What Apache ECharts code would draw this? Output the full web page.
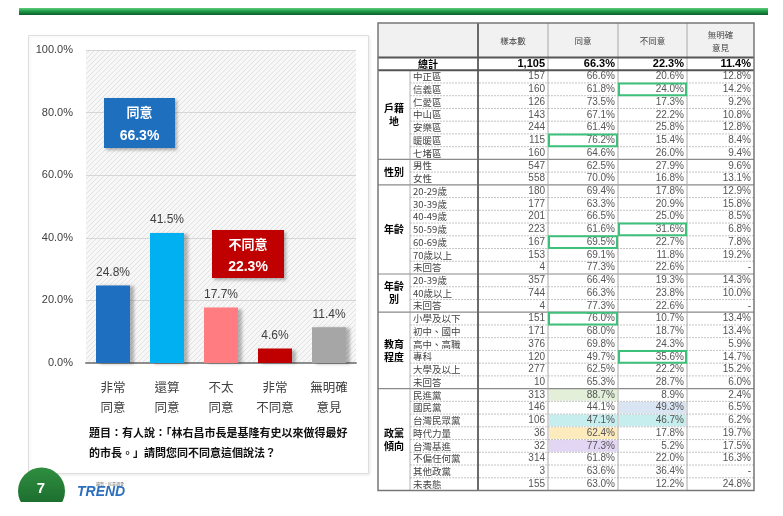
<!DOCTYPE html>
<html>
<head>
<meta charset="utf-8">
<script src="https://cdn.jsdelivr.net/npm/echarts@6/dist/echarts.min.js"></script>
<style>
html,body{margin:0;padding:0;background:#fff;}
#chart{width:783px;height:516px;}
</style>
</head>
<body>
<div id="chart"></div>
<script>
// ---------- DATA ----------
const categories = ['非常\n同意', '還算\n同意', '不太\n同意', '非常\n不同意', '無明確\n意見'];
const values = [24.8, 41.5, 17.7, 4.6, 11.4];
const summaryLabels = ['同意', '不同意'];
const summaryValues = [66.3, 22.3];
const questionText = '題目：有人說：「林右昌市長是基隆有史以來做得最好的市長。」請問您同不同意這個說法？';
const pageNumber = '7';

const tableCols = ['樣本數', '同意', '不同意', '無明確\n意見'];
const totalRow = ['總計', 1105, 66.3, 22.3, 11.4];
const districtRows = [
  ['中正區', 157, 66.6, 20.6, 12.8],
  ['信義區', 160, 61.8, 24.0, 14.2],
  ['仁愛區', 126, 73.5, 17.3, 9.2],
  ['中山區', 143, 67.1, 22.2, 10.8],
  ['安樂區', 244, 61.4, 25.8, 12.8],
  ['暖暖區', 115, 76.2, 15.4, 8.4],
  ['七堵區', 160, 64.6, 26.0, 9.4]
];
const genderRows = [
  ['男性', 547, 62.5, 27.9, 9.6],
  ['女性', 558, 70.0, 16.8, 13.1]
];
const ageRows = [
  ['20-29歲', 180, 69.4, 17.8, 12.9],
  ['30-39歲', 177, 63.3, 20.9, 15.8],
  ['40-49歲', 201, 66.5, 25.0, 8.5],
  ['50-59歲', 223, 61.6, 31.6, 6.8],
  ['60-69歲', 167, 69.5, 22.7, 7.8],
  ['70歲以上', 153, 69.1, 11.8, 19.2],
  ['未回答', 4, 77.3, 22.6, null]
];
const ageGroupRows = [
  ['20-39歲', 357, 66.4, 19.3, 14.3],
  ['40歲以上', 744, 66.3, 23.8, 10.0],
  ['未回答', 4, 77.3, 22.6, null]
];
const eduRows = [
  ['小學及以下', 151, 76.0, 10.7, 13.4],
  ['初中、國中', 171, 68.0, 18.7, 13.4],
  ['高中、高職', 376, 69.8, 24.3, 5.9],
  ['專科', 120, 49.7, 35.6, 14.7],
  ['大學及以上', 277, 62.5, 22.2, 15.2],
  ['未回答', 10, 65.3, 28.7, 6.0]
];
const partyRows = [
  ['民進黨', 313, 88.7, 8.9, 2.4],
  ['國民黨', 146, 44.1, 49.3, 6.5],
  ['台灣民眾黨', 106, 47.1, 46.7, 6.2],
  ['時代力量', 36, 62.4, 17.8, 19.7],
  ['台灣基進', 32, 77.3, 5.2, 17.5],
  ['不偏任何黨', 314, 61.8, 22.0, 16.3],
  ['其他政黨', 3, 63.6, 36.4, null],
  ['未表態', 155, 63.0, 12.2, 24.8]
];
const groupNames = ['戶籍\n地', '性別', '年齡', '年齡\n別', '教育\n程度', '政黨\n傾向'];
const groupRows = [districtRows, genderRows, ageRows, ageGroupRows, eduRows, partyRows];
// highlighted cells: [row label, column index (0=樣本數,1=同意,2=不同意,3=無明確意見)]
const boxedCells = [['信義區', 2], ['暖暖區', 1], ['50-59歲', 2], ['60-69歲', 1], ['小學及以下', 1], ['專科', 2]];
const filledCells = [['民進黨', 1], ['國民黨', 2], ['台灣民眾黨', 1], ['台灣民眾黨', 2], ['時代力量', 1], ['台灣基進', 1]];

// ---------- STYLES ----------
const barColors = ['#1f6fc0', '#00b0f0', '#ff7c80', '#c00000', '#a6a6a6'];
const summaryColors = ['#1f6fbf', '#c00000'];
const fillColors = ['#e3efd9', '#dae5f4', '#c7eeee', '#c7eeee', '#fdebbd', '#e3d6f4'];
const CJK = '"Noto Sans CJK TC","Noto Sans CJK SC",sans-serif';
const LAT = '"Liberation Sans",Arial,"Noto Sans CJK TC",sans-serif';

const chart = echarts.init(document.getElementById('chart'));

// hatch pattern for plot background
const pat = document.createElement('canvas');
pat.width = 5; pat.height = 5;
(function () {
  const c = pat.getContext('2d');
  c.fillStyle = '#f7f7f7'; c.fillRect(0, 0, 5, 5);
  c.strokeStyle = '#e2e2e2'; c.lineWidth = 1;
  c.beginPath();
  c.moveTo(0, 5); c.lineTo(5, 0);
  c.moveTo(-1, 1); c.lineTo(1, -1);
  c.moveTo(4, 6); c.lineTo(6, 4);
  c.stroke();
})();

// ---------- GRAPHICS ----------
const g = [];
// top green band
g.push({type: 'rect', z: 1, shape: {x: 19, y: 8, width: 749, height: 7},
  style: {fill: new echarts.graphic.LinearGradient(0, 0, 0, 1, [
    {offset: 0, color: '#5fcf7c'}, {offset: 0.45, color: '#1f9a48'}, {offset: 1, color: '#0b5f2a'}])}});
// left panel
g.push({type: 'rect', z: -10, shape: {x: 28.5, y: 35.5, width: 340, height: 438},
  style: {fill: '#fff', stroke: '#dedede', lineWidth: 1, shadowColor: 'rgba(0,0,0,0.08)', shadowBlur: 3, shadowOffsetX: 1, shadowOffsetY: 1}});

// summary callouts
const calloutBoxes = [{x: 104, y: 98, w: 71, h: 50}, {x: 212, y: 230, w: 72, h: 48}];
summaryLabels.forEach(function (lab, i) {
  const b = calloutBoxes[i];
  g.push({type: 'rect', z: 20, shape: {x: b.x, y: b.y, width: b.w, height: b.h},
    style: {fill: summaryColors[i], shadowColor: 'rgba(0,0,0,0.3)', shadowBlur: 3, shadowOffsetX: 2, shadowOffsetY: 2}});
  g.push({type: 'text', z: 21, style: {text: lab, x: b.x + b.w / 2, y: b.y + b.h * 0.29,
    align: 'center', verticalAlign: 'middle', textAlign: 'center', textVerticalAlign: 'middle',
    fill: '#fff', font: 'bold 13px ' + CJK}});
  g.push({type: 'text', z: 21, style: {text: summaryValues[i].toFixed(1) + '%', x: b.x + b.w / 2, y: b.y + b.h * 0.77,
    align: 'center', verticalAlign: 'middle', textAlign: 'center', textVerticalAlign: 'middle',
    fill: '#fff', font: 'bold 14px ' + LAT}});
});

// question text
g.push({type: 'text', z: 5, style: {text: questionText.slice(0, 24) + '\n' + questionText.slice(24),
  x: 89, y: 423, lineHeight: 20, fill: '#111', font: 'bold 11px ' + CJK,
  align: 'left', verticalAlign: 'top', textAlign: 'left', textVerticalAlign: 'top'}});

// logo tab with page number
g.push({type: 'circle', z: 5, shape: {cx: 41.5, cy: 491, r: 23.5},
  style: {fill: new echarts.graphic.LinearGradient(0, 0, 0, 1, [
    {offset: 0, color: '#2f8e3f'}, {offset: 1, color: '#17642a'}])}});
g.push({type: 'rect', z: 6, shape: {x: 10, y: 502, width: 70, height: 20}, style: {fill: '#fff'}});
g.push({type: 'text', z: 7, style: {text: pageNumber, x: 41, y: 489, fill: '#fff', font: 'bold 15px ' + LAT,
  align: 'center', verticalAlign: 'middle', textAlign: 'center', textVerticalAlign: 'middle'}});
g.push({type: 'text', z: 7, style: {text: 'TREND', x: 77, y: 492, fill: '#2c6fbf', font: 'italic bold 14px ' + LAT,
  align: 'left', verticalAlign: 'middle', textAlign: 'left', textVerticalAlign: 'middle'}});
g.push({type: 'text', z: 7, style: {text: '趨勢·民意調查', x: 110, y: 484, fill: '#777', font: '4px ' + CJK,
  align: 'center', verticalAlign: 'middle', textAlign: 'center', textVerticalAlign: 'middle'}});

// ---------- TABLE ----------
const colX = [378, 410, 478, 548, 618, 687, 754];
const tTop = 23, headBottom = 57.5, tBottom = 490.5;
const nRows = 1 + groupRows.reduce(function (s, r) { return s + r.length; }, 0);
const rowH = (tBottom - headBottom) / nRows;
function txt(t, x, y, font, fill, align) {
  g.push({type: 'text', z: 12, style: {text: t, x: x, y: y, font: font, fill: fill,
    align: align, verticalAlign: 'middle', textAlign: align, textVerticalAlign: 'middle', lineHeight: 13}});
}
function line(x1, y1, x2, y2, stroke, w, dash) {
  g.push({type: 'line', z: 14, shape: {x1: x1, y1: y1, x2: x2, y2: y2},
    style: {stroke: stroke, lineWidth: w, lineDash: dash || null}});
}
function fmtCell(v, ci) {
  if (v === null) return '-';
  if (ci === 0) return v.toLocaleString('en-US');
  return v.toFixed(1) + '%';
}
// header background
g.push({type: 'rect', z: 10, shape: {x: colX[0], y: tTop, width: colX[6] - colX[0], height: headBottom - tTop},
  style: {fill: '#f1f1f1'}});
tableCols.forEach(function (c, i) {
  txt(c, (colX[i + 2] + colX[i + 3]) / 2, (tTop + headBottom) / 2 + 1, '8.5px ' + CJK, '#444', 'center');
});
// total row
const totY = headBottom + rowH / 2;
txt(totalRow[0], (colX[0] + colX[2]) / 2, totY, 'bold 10px ' + CJK, '#000', 'center');
for (let ci = 0; ci < 4; ci++) {
  txt(fmtCell(totalRow[ci + 1], ci), colX[ci + 3] - 3, totY, 'bold 11px ' + LAT, '#000', 'right');
}
// group rows
let rowIdx = 1;
groupRows.forEach(function (rows, gi) {
  const gTop = headBottom + rowIdx * rowH;
  const gBot = gTop + rows.length * rowH;
  txt(groupNames[gi], (colX[0] + colX[1]) / 2, (gTop + gBot) / 2, 'bold 10px ' + CJK, '#000', 'center');
  rows.forEach(function (r, ri) {
    const y0 = gTop + ri * rowH, yc = y0 + rowH / 2;
    txt(r[0], colX[1] + 3, yc, '9.5px ' + CJK, '#444', 'left');
    for (let ci = 0; ci < 4; ci++) {
      txt(fmtCell(r[ci + 1], ci), colX[ci + 3] - 3, yc, '10px ' + LAT, '#555', 'right');
    }
    filledCells.forEach(function (fc, fi) {
      if (fc[0] === r[0]) {
        g.push({type: 'rect', z: 11, shape: {x: colX[fc[1] + 2] + 1, y: y0 + 0.5, width: colX[fc[1] + 3] - colX[fc[1] + 2] - 2, height: rowH - 1},
          style: {fill: fillColors[fi]}});
      }
    });
    boxedCells.forEach(function (bc) {
      if (bc[0] === r[0]) {
        g.push({type: 'rect', z: 16, shape: {x: colX[bc[1] + 2] + 1, y: y0 + 0.5, width: colX[bc[1] + 3] - colX[bc[1] + 2] - 2, height: rowH - 1},
          style: {fill: null, stroke: '#3cc07a', lineWidth: 2}});
      }
    });
    if (ri < rows.length - 1) line(colX[1], y0 + rowH, colX[6], y0 + rowH, '#b5b5b5', 0.8, [2, 1]);
  });
  rowIdx += rows.length;
  if (gi < groupRows.length - 1) line(colX[0], gBot, colX[6], gBot, '#8a8a8a', 1.2);
});
// vertical lines
line(colX[1], headBottom + rowH, colX[1], tBottom, '#a0a0a0', 0.8);
line(colX[2], tTop, colX[2], tBottom, '#6a6a6a', 2);
[3, 4, 5].forEach(function (i) { line(colX[i], tTop, colX[i], tBottom, '#a8a8a8', 1); });
// thick horizontals
line(colX[0], headBottom, colX[6], headBottom, '#555', 2);
line(colX[0], headBottom + rowH, colX[6], headBottom + rowH, '#555', 2);
// outer border
g.push({type: 'rect', z: 15, shape: {x: colX[0], y: tTop, width: colX[6] - colX[0], height: tBottom - tTop},
  style: {fill: null, stroke: '#777', lineWidth: 1.5}});

// ---------- OPTION ----------
const option = {
  backgroundColor: '#fff',
  animation: false,
  grid: {left: 86, right: 427, top: 50, bottom: 153, show: true, borderWidth: 0,
    backgroundColor: {image: pat, repeat: 'repeat'}},
  xAxis: {
    type: 'category', data: categories,
    axisLine: {lineStyle: {color: '#8c8c8c', width: 2}},
    axisTick: {show: false},
    axisLabel: {interval: 0, color: '#404040', fontSize: 12.5, lineHeight: 20, margin: 14, fontFamily: CJK}
  },
  yAxis: {
    type: 'value', min: 0, max: 100, interval: 20,
    axisLine: {show: false}, axisTick: {show: false},
    splitLine: {lineStyle: {color: '#d6d6d6', width: 1}},
    axisLabel: {formatter: function (v) { return v.toFixed(1) + '%'; }, color: '#404040', fontSize: 11, margin: 13, fontFamily: LAT}
  },
  series: [{
    type: 'bar', barWidth: 34,
    data: values.map(function (v, i) { return {value: v, itemStyle: {color: barColors[i]}}; }),
    itemStyle: {shadowColor: 'rgba(0,0,0,0.28)', shadowBlur: 3, shadowOffsetX: 4, shadowOffsetY: 1},
    label: {show: true, position: 'top', distance: 7, color: '#404040', fontSize: 12, fontFamily: LAT,
      formatter: function (p) { return p.value.toFixed(1) + '%'; }}
  }],
  graphic: {elements: g}
};
chart.setOption(option);
</script>
</body>
</html>
